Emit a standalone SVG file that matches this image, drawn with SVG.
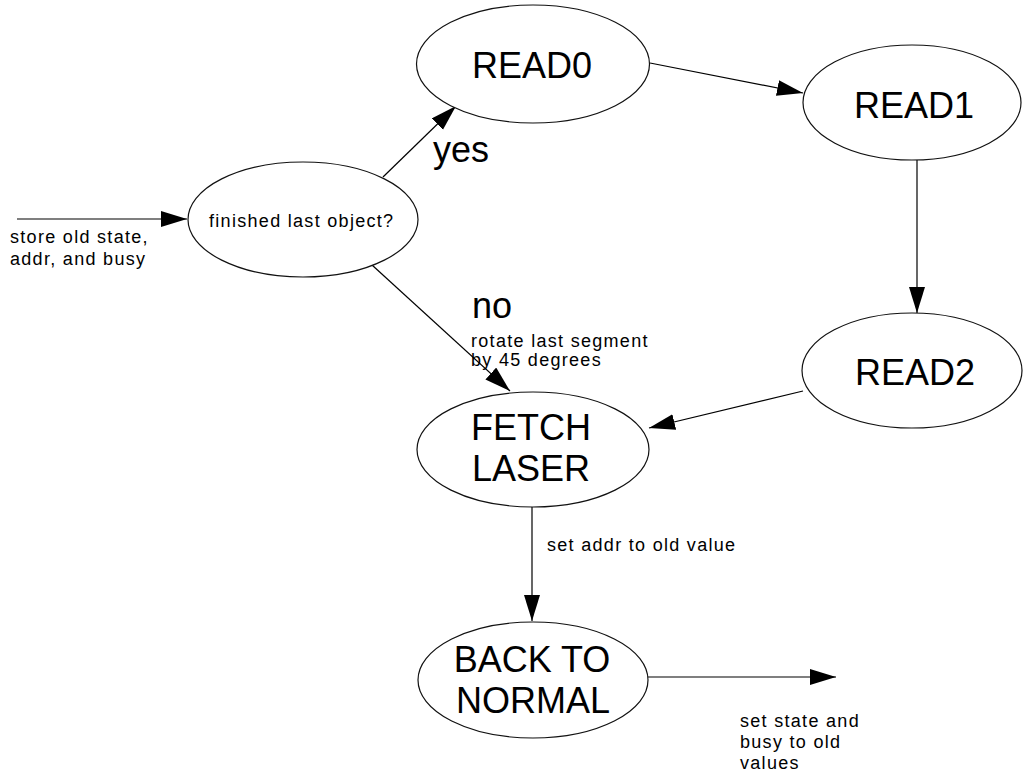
<svg xmlns="http://www.w3.org/2000/svg" width="1023" height="776" viewBox="0 0 1023 776">
  <style>
    .node ellipse { fill: #ffffff; stroke: #111111; stroke-width: 1.2; }
    .big { font-family: "Liberation Sans", Arial, sans-serif; font-size: 36px; fill: #000000; text-anchor: middle; }
    .lbl { font-family: "Liberation Sans", Arial, sans-serif; font-size: 36px; fill: #000000; }
    .small { font-family: "Liberation Sans", Arial, sans-serif; font-size: 18px; letter-spacing: 1.3px; fill: #000000; }
    .edge { stroke: #000000; stroke-width: 1.2; fill: none; marker-end: url(#arrow); }
  </style>
  <defs>
    <marker id="arrow" markerUnits="userSpaceOnUse" markerWidth="27" markerHeight="17" refX="26" refY="8" orient="auto">
      <path d="M0,0 L26,8 L0,16 Z" fill="#000000"/>
    </marker>
  </defs>
  <rect width="1023" height="776" fill="#ffffff"/>

  <!-- transitions -->
  <g id="connectors">
    <line class="edge" x1="17" y1="219" x2="187" y2="219"/>
    <line class="edge" x1="383" y1="177" x2="456" y2="106"/>
    <line class="edge" x1="372" y1="265" x2="510" y2="391"/>
    <line class="edge" x1="650" y1="63" x2="803" y2="93"/>
    <line class="edge" x1="917" y1="160" x2="917" y2="313"/>
    <line class="edge" x1="803" y1="391" x2="649" y2="428"/>
    <line class="edge" x1="532" y1="507" x2="532" y2="621"/>
    <line class="edge" x1="648" y1="677" x2="836" y2="677"/>
  </g>

  <!-- transition labels -->
  <g id="labels">
    <text class="small" x="10" y="243">store old state,</text>
    <text class="small" x="10" y="265">addr, and busy</text>
    <text class="lbl" x="433" y="162">yes</text>
    <text class="lbl" x="472" y="318">no</text>
    <text class="small" x="471" y="347">rotate last segment</text>
    <text class="small" x="471" y="366">by 45 degrees</text>
    <text class="small" x="547" y="551">set addr to old value</text>
    <text class="small" x="740" y="727">set state and</text>
    <text class="small" x="740" y="748">busy to old</text>
    <text class="small" x="740" y="769">values</text>
  </g>

  <!-- states -->
  <g id="node-finished" class="node">
    <ellipse cx="303" cy="219.5" rx="115" ry="57.5"/>
    <text class="small" x="209" y="227">finished last object?</text>
  </g>
  <g id="node-read0" class="node">
    <ellipse cx="533" cy="64" rx="116.5" ry="59"/>
    <text class="big" x="532" y="78">READ0</text>
  </g>
  <g id="node-read1" class="node">
    <ellipse cx="912" cy="102.5" rx="109" ry="57.5"/>
    <text class="big" x="914" y="118">READ1</text>
  </g>
  <g id="node-read2" class="node">
    <ellipse cx="912" cy="370.5" rx="110" ry="57.5"/>
    <text class="big" x="915" y="385">READ2</text>
  </g>
  <g id="node-fetch-laser" class="node">
    <ellipse cx="533" cy="449.5" rx="116" ry="57.5"/>
    <text class="big" x="531" y="440">FETCH</text>
    <text class="big" x="531" y="481">LASER</text>
  </g>
  <g id="node-back-to-normal" class="node">
    <ellipse cx="533" cy="680" rx="115" ry="58"/>
    <text class="big" x="532" y="672">BACK TO</text>
    <text class="big" x="533" y="713">NORMAL</text>
  </g>
</svg>
